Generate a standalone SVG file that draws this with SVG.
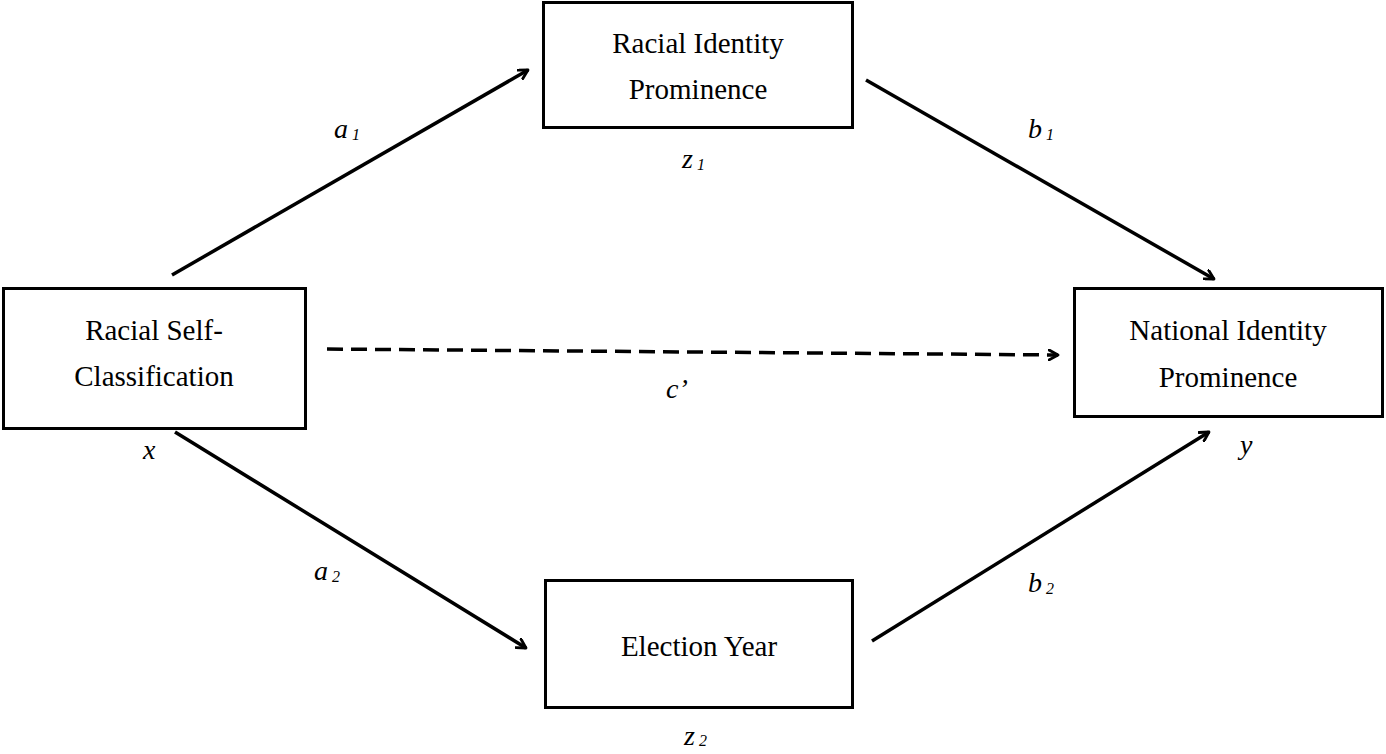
<svg xmlns="http://www.w3.org/2000/svg" width="1386" height="754" viewBox="0 0 1386 754">
<style>
.box{fill:#fff;stroke:#000;stroke-width:3}
.t{font-family:"Liberation Serif",serif;font-size:29px;fill:#000;text-anchor:middle}
.v{font-family:"Liberation Serif",serif;font-style:italic;font-size:28px;fill:#000}
.s{font-size:16px}
.c{stroke:#000;stroke-width:3.5;fill:none}
</style>
<defs>
<marker id="ah" viewBox="0 0 12 12" refX="10" refY="6" markerWidth="12" markerHeight="12" markerUnits="userSpaceOnUse" orient="auto">
<polyline points="1,1 10,6 1,11" fill="none" stroke="#000" stroke-width="2.8" stroke-linecap="round" stroke-linejoin="round"/>
</marker>
</defs>
<rect width="1386" height="754" fill="#fff"/>
<g id="node-z1">
<rect class="box" x="543.5" y="2.5" width="309" height="125"/>
<text class="t" x="698" y="53">Racial Identity</text>
<text class="t" x="698" y="99">Prominence</text>
</g>
<g id="node-x">
<rect class="box" x="3.5" y="288.5" width="302" height="140"/>
<text class="t" x="154" y="340">Racial Self-</text>
<text class="t" x="154" y="386">Classification</text>
</g>
<g id="node-y">
<rect class="box" x="1074.5" y="288.5" width="308" height="128"/>
<text class="t" x="1228" y="340">National Identity</text>
<text class="t" x="1228" y="387">Prominence</text>
</g>
<g id="node-z2">
<rect class="box" x="545.5" y="580.5" width="307" height="127"/>
<text class="t" x="699" y="656">Election Year</text>
</g>
<g id="connectors">
<line class="c" x1="172" y1="275" x2="528" y2="70" marker-end="url(#ah)"/>
<line class="c" x1="866" y1="80" x2="1214" y2="279" marker-end="url(#ah)"/>
<line class="c" x1="327" y1="349" x2="1058" y2="355" stroke-dasharray="16,8" marker-end="url(#ah)"/>
<line class="c" x1="175" y1="432" x2="526" y2="648" marker-end="url(#ah)"/>
<line class="c" x1="872" y1="641" x2="1209" y2="432" marker-end="url(#ah)"/>
</g>
<g id="labels">
<text class="v" x="334" y="138">a<tspan class="s" dx="4" dy="2">1</tspan></text>
<text class="v" x="682" y="168">z<tspan class="s" dx="4" dy="2">1</tspan></text>
<text class="v" x="143" y="459">x</text>
<text class="v" x="1240" y="454">y</text>
<text class="v" x="666" y="398">c’</text>
<text class="v" x="1028" y="138">b<tspan class="s" dx="4" dy="2">1</tspan></text>
<text class="v" x="1028" y="592">b<tspan class="s" dx="4" dy="2">2</tspan></text>
<text class="v" x="314" y="580">a<tspan class="s" dx="4" dy="2">2</tspan></text>
<text class="v" x="684" y="745">z<tspan class="s" dx="4" dy="1">2</tspan></text>
</g>
</svg>
